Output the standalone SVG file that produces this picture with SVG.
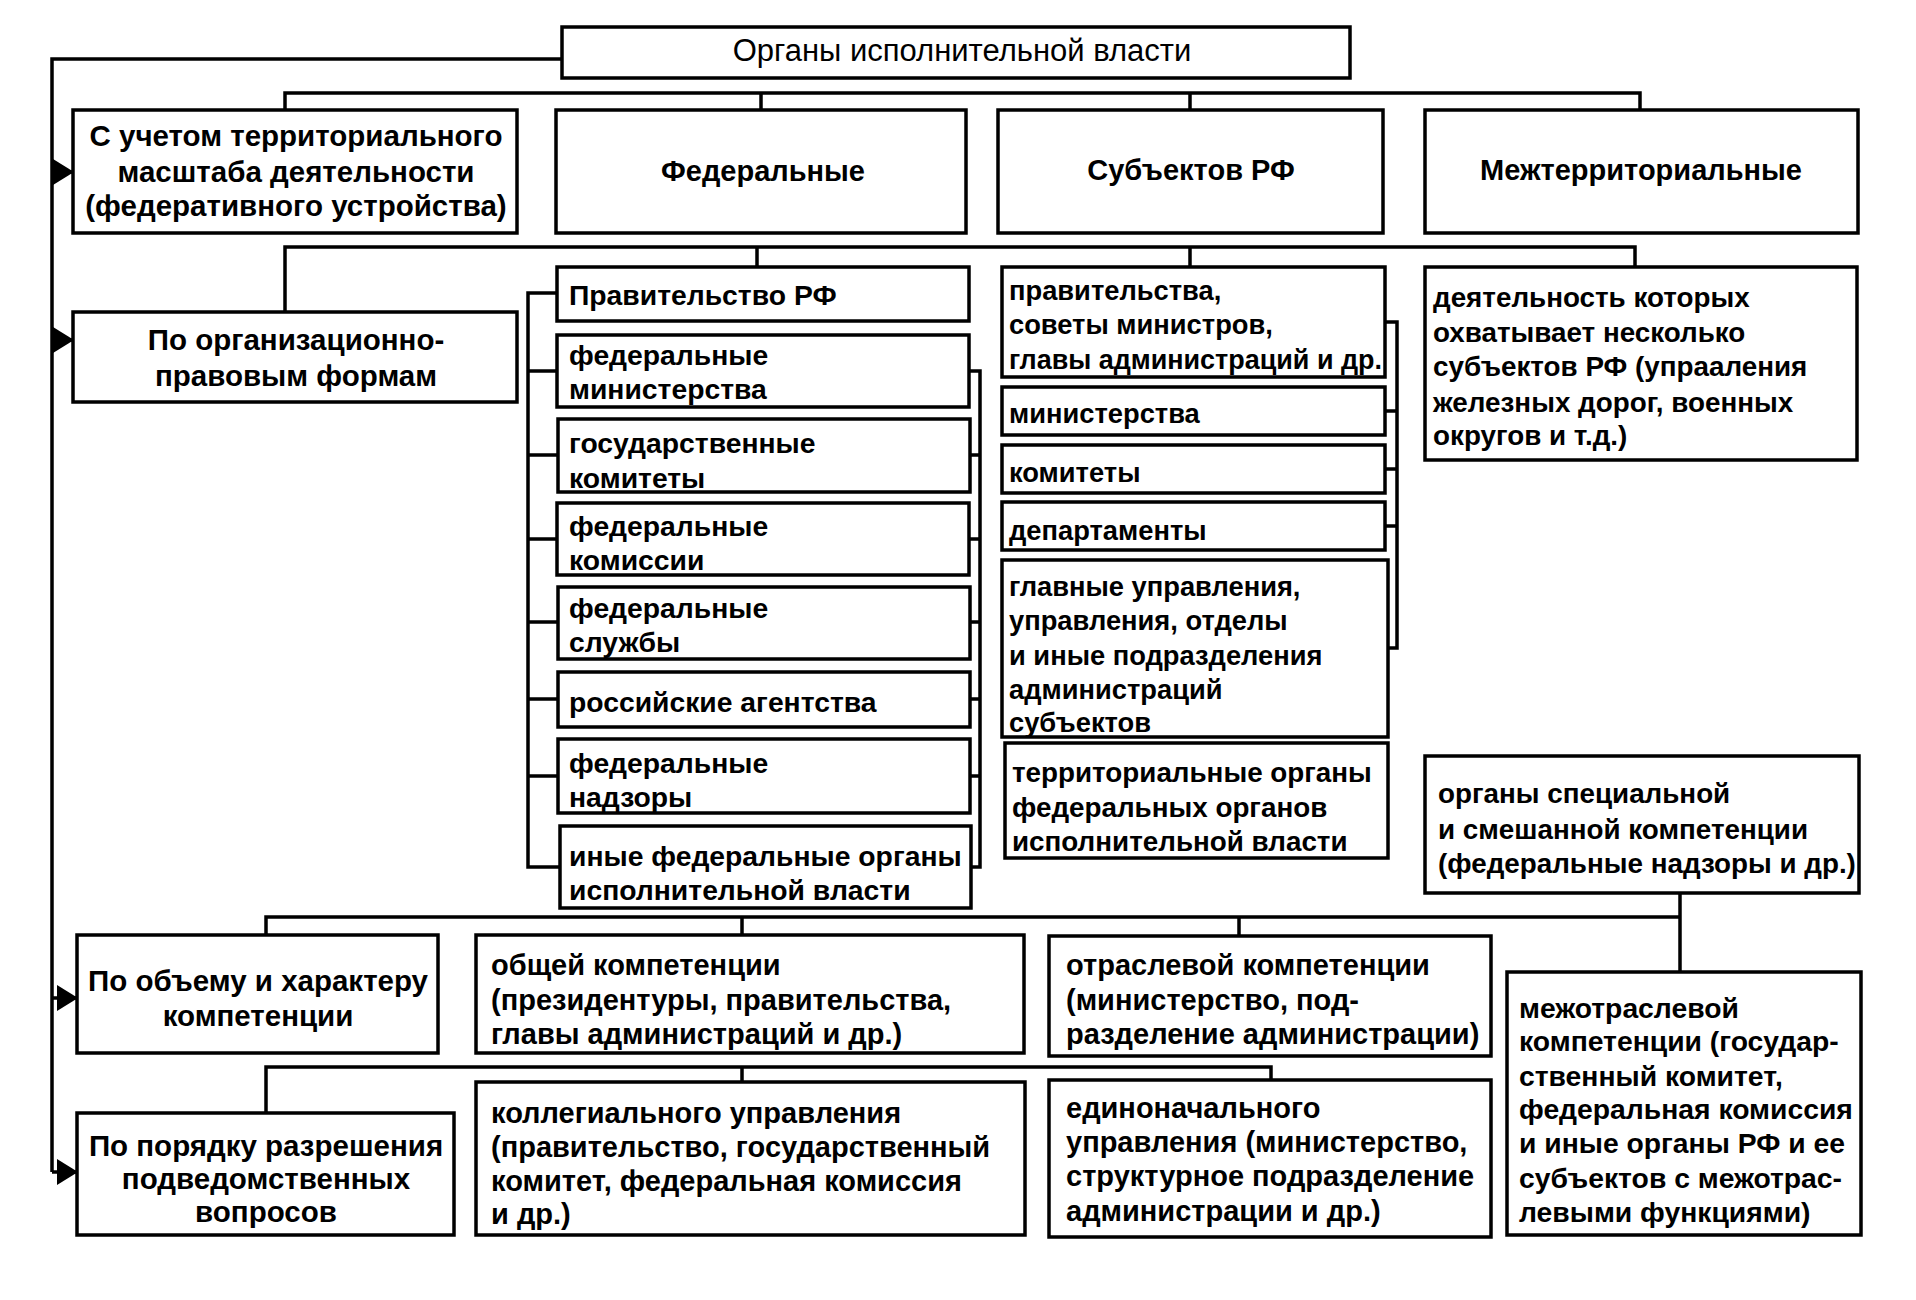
<svg xmlns="http://www.w3.org/2000/svg" width="1916" height="1300" viewBox="0 0 1916 1300">
<defs>
<style>
.b{fill:#fff;stroke:#000;stroke-width:3.5}
.t{font-family:"Liberation Sans",Arial,sans-serif;font-size:28.3px;font-weight:bold;fill:#000}
.c{text-anchor:middle}
.n{font-weight:normal;font-size:31px}
.lg{font-size:29.5px}
.hd{font-size:29px}
.sm{font-size:27.3px}
.md{font-size:27.8px}
.bt{font-size:29px}
.ln{fill:none;stroke:#000;stroke-width:3.5}
</style>
<marker id="arr" markerUnits="userSpaceOnUse" markerWidth="21" markerHeight="26" refX="20" refY="13" orient="auto">
<path d="M0,0 L21,13 L0,26 z" fill="#000"/>
</marker>
</defs>
<rect width="1916" height="1300" fill="#fff"/>

<g id="connectors">
<path class="ln" d="M562,59 H52 V1172"/>
<line class="ln" x1="52" y1="172" x2="73" y2="172" marker-end="url(#arr)"/>
<line class="ln" x1="52" y1="340" x2="73" y2="340" marker-end="url(#arr)"/>
<line class="ln" x1="52" y1="998" x2="77" y2="998" marker-end="url(#arr)"/>
<line class="ln" x1="52" y1="1172" x2="77" y2="1172" marker-end="url(#arr)"/>
<path class="ln" d="M285,110 V93 H1640 V110 M761,93 V110 M1190,93 V110"/>
<path class="ln" d="M285,312 V247 H1635 V267 M757,247 V267 M1190,247 V267"/>
<path class="ln" d="M557,293 H528 V867 H560 M528,371 H557 M528,455 H557 M528,539 H557 M528,622 H557 M528,699 H557 M528,776 H557"/>
<path class="ln" d="M969,371 H980 V867 H971 M969,455 H980 M969,539 H980 M970,622 H980 M970,699 H980 M970,776 H980"/>
<path class="ln" d="M1385,322 H1397 V648 H1388 M1385,411 H1397 M1385,469 H1397 M1385,526 H1397"/>
<path class="ln" d="M266,935 V917 H1680 M742,917 V935 M1239,917 V936 M1680,893 V972"/>
<path class="ln" d="M266,1113 V1067 H1271 V1080 M742,1067 V1082"/>
</g>

<g id="n-root">
<rect class="b" x="562" y="27" width="788" height="51"/>
<text class="t c n" x="962" y="61">Органы исполнительной власти</text>
</g>

<g id="n-territorial-scale">
<rect class="b" x="73" y="110" width="444" height="123"/>
<text class="t c lg" x="296" y="146">С учетом территориального</text>
<text class="t c lg" x="296" y="182">масштаба деятельности</text>
<text class="t c lg" x="296" y="216">(федеративного устройства)</text>
</g>
<g id="n-federal">
<rect class="b" x="556" y="110" width="410" height="123"/>
<text class="t c hd" x="763" y="181">Федеральные</text>
</g>
<g id="n-subjects">
<rect class="b" x="998" y="110" width="385" height="123"/>
<text class="t c hd" x="1191" y="180">Субъектов РФ</text>
</g>
<g id="n-interterritorial">
<rect class="b" x="1425" y="110" width="433" height="123"/>
<text class="t c hd" x="1641" y="180">Межтерриториальные</text>
</g>

<g id="n-org-legal">
<rect class="b" x="73" y="312" width="444" height="90"/>
<text class="t c lg" x="296" y="350">По организационно-</text>
<text class="t c lg" x="296" y="386">правовым формам</text>
</g>

<g id="n-fed-gov">
<rect class="b" x="557" y="267" width="412" height="54"/>
<text class="t" x="569" y="305">Правительство РФ</text>
</g>
<g id="n-fed-min">
<rect class="b" x="557" y="335" width="412" height="72"/>
<text class="t" x="569" y="365">федеральные</text>
<text class="t" x="569" y="399">министерства</text>
</g>
<g id="n-fed-com">
<rect class="b" x="558" y="419" width="412" height="73"/>
<text class="t" x="569" y="453">государственные</text>
<text class="t" x="569" y="488">комитеты</text>
</g>
<g id="n-fed-comm">
<rect class="b" x="557" y="503" width="412" height="72"/>
<text class="t" x="569" y="536">федеральные</text>
<text class="t" x="569" y="570">комиссии</text>
</g>
<g id="n-fed-serv">
<rect class="b" x="558" y="587" width="412" height="72"/>
<text class="t" x="569" y="618">федеральные</text>
<text class="t" x="569" y="652">службы</text>
</g>
<g id="n-fed-agency">
<rect class="b" x="558" y="672" width="412" height="55"/>
<text class="t" x="569" y="712">российские агентства</text>
</g>
<g id="n-fed-supervision">
<rect class="b" x="558" y="739" width="412" height="74"/>
<text class="t" x="569" y="773">федеральные</text>
<text class="t" x="569" y="807">надзоры</text>
</g>
<g id="n-fed-other">
<rect class="b" x="560" y="826" width="411" height="82"/>
<text class="t" x="569" y="866">иные федеральные органы</text>
<text class="t" x="569" y="900">исполнительной власти</text>
</g>

<g id="n-sub-gov">
<rect class="b" x="1002" y="267" width="383" height="110"/>
<text class="t sm" x="1009" y="300">правительства,</text>
<text class="t sm" x="1009" y="334">советы министров,</text>
<text class="t sm" x="1009" y="369" textLength="373" lengthAdjust="spacingAndGlyphs">главы администраций и др.</text>
</g>
<g id="n-sub-min">
<rect class="b" x="1002" y="387" width="383" height="48"/>
<text class="t sm" x="1009" y="423">министерства</text>
</g>
<g id="n-sub-com">
<rect class="b" x="1002" y="445" width="383" height="48"/>
<text class="t sm" x="1009" y="482">комитеты</text>
</g>
<g id="n-sub-dep">
<rect class="b" x="1002" y="502" width="383" height="48"/>
<text class="t sm" x="1009" y="540">департаменты</text>
</g>
<g id="n-sub-main">
<rect class="b" x="1002" y="560" width="386" height="177"/>
<text class="t sm" x="1009" y="596">главные управления,</text>
<text class="t sm" x="1009" y="630">управления, отделы</text>
<text class="t sm" x="1009" y="665">и иные подразделения</text>
<text class="t sm" x="1009" y="699">администраций</text>
<text class="t sm" x="1009" y="732">субъектов</text>
</g>
<g id="n-sub-terr">
<rect class="b" x="1005" y="743" width="383" height="115"/>
<text class="t md" x="1012" y="782">территориальные органы</text>
<text class="t md" x="1012" y="817">федеральных органов</text>
<text class="t md" x="1012" y="851">исполнительной власти</text>
</g>

<g id="n-inter-desc">
<rect class="b" x="1425" y="267" width="432" height="193"/>
<text class="t md" x="1433" y="307">деятельность которых</text>
<text class="t md" x="1433" y="342">охватывает несколько</text>
<text class="t md" x="1433" y="376">субъектов РФ (упрааления</text>
<text class="t md" x="1433" y="412">железных дорог, военных</text>
<text class="t md" x="1433" y="445">округов и т.д.)</text>
</g>

<g id="n-special">
<rect class="b" x="1425" y="756" width="434" height="137"/>
<text class="t md" x="1438" y="803">органы специальной</text>
<text class="t md" x="1438" y="839">и смешанной компетенции</text>
<text class="t md" x="1438" y="873">(федеральные надзоры и др.)</text>
</g>

<g id="n-competence">
<rect class="b" x="77" y="935" width="361" height="118"/>
<text class="t c lg" x="258" y="991">По объему и характеру</text>
<text class="t c lg" x="258" y="1026">компетенции</text>
</g>
<g id="n-general">
<rect class="b" x="476" y="935" width="548" height="118"/>
<text class="t bt" x="491" y="975">общей компетенции</text>
<text class="t bt" x="491" y="1010">(президентуры, правительства,</text>
<text class="t bt" x="491" y="1044">главы администраций и др.)</text>
</g>
<g id="n-branch">
<rect class="b" x="1049" y="936" width="442" height="120"/>
<text class="t bt" x="1066" y="975">отраслевой компетенции</text>
<text class="t bt" x="1066" y="1010">(министерство, под-</text>
<text class="t bt" x="1066" y="1044">разделение администрации)</text>
</g>
<g id="n-interbranch">
<rect class="b" x="1507" y="972" width="354" height="263"/>
<text class="t" x="1519" y="1018">межотраслевой</text>
<text class="t" x="1519" y="1051">компетенции (государ-</text>
<text class="t" x="1519" y="1086">ственный комитет,</text>
<text class="t" x="1519" y="1119">федеральная комиссия</text>
<text class="t" x="1519" y="1153">и иные органы РФ и ее</text>
<text class="t" x="1519" y="1188">субъектов с межотрас-</text>
<text class="t" x="1519" y="1222">левыми функциями)</text>
</g>

<g id="n-order">
<rect class="b" x="77" y="1113" width="377" height="122"/>
<text class="t c lg" x="266" y="1156">По порядку разрешения</text>
<text class="t c lg" x="266" y="1189">подведомственных</text>
<text class="t c lg" x="266" y="1222">вопросов</text>
</g>
<g id="n-collegial">
<rect class="b" x="476" y="1082" width="549" height="153"/>
<text class="t bt" x="491" y="1123">коллегиального управления</text>
<text class="t bt" x="491" y="1157">(правительство, государственный</text>
<text class="t bt" x="491" y="1191">комитет, федеральная комиссия</text>
<text class="t bt" x="491" y="1224">и др.)</text>
</g>
<g id="n-sole">
<rect class="b" x="1049" y="1080" width="442" height="157"/>
<text class="t bt" x="1066" y="1118">единоначального</text>
<text class="t bt" x="1066" y="1152">управления (министерство,</text>
<text class="t bt" x="1066" y="1186">структурное подразделение</text>
<text class="t bt" x="1066" y="1221">администрации и др.)</text>
</g>
</svg>
